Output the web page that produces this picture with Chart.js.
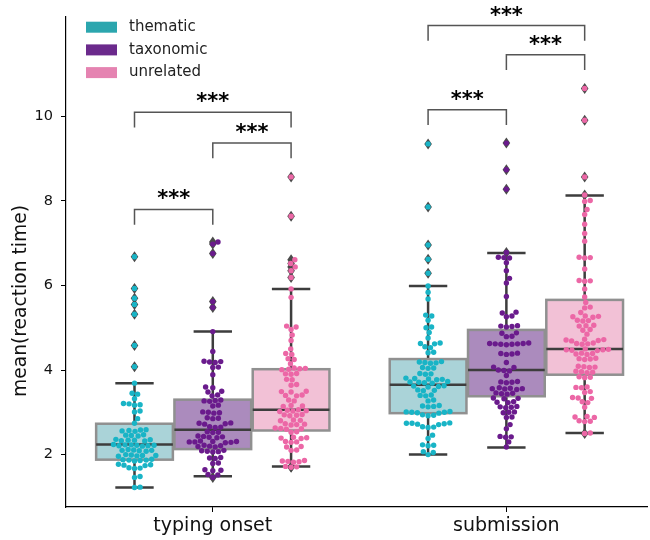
<!DOCTYPE html>
<html>
<head>
<meta charset="utf-8">
<script src="https://cdn.jsdelivr.net/npm/chart.js@4.4.1/dist/chart.umd.min.js"></script>
<style>
  html, body { margin: 0; padding: 0; background: #fff; overflow: hidden; }
</style>
</head>
<body>
<canvas id="chart" width="650" height="540"></canvas>
<script>
const categories = ['typing onset', 'submission'];
const seriesNames = ['thematic', 'taxonomic', 'unrelated'];
const yTicks = [2, 4, 6, 8, 10];

// box statistics per series: [typing onset, submission]
const boxQ1 = [[1.88, 2.98], [2.13, 3.38], [2.57, 3.89]];
const boxMedian = [[2.24, 3.65], [2.59, 4.00], [3.06, 4.50]];
const boxQ3 = [[2.73, 4.26], [3.30, 4.95], [4.02, 5.66]];
const whiskerLow = [[1.22, 2.00], [1.49, 2.17], [1.72, 2.51]];
const whiskerHigh = [[3.69, 5.99], [4.91, 6.77], [5.92, 8.13]];

// per-participant means
const thematicTyping = [
  6.68, 5.93, 5.70, 5.55, 5.32, 4.58, 4.08,
  3.69, 3.45, 3.43, 3.32, 3.20, 3.18, 3.21, 3.17, 3.03, 3.01, 2.85, 2.74,
  2.58, 2.57, 2.56, 2.59, 2.55, 2.46, 2.45, 2.44, 2.47,
  2.35, 2.34, 2.33, 2.36, 2.32, 2.34,
  2.23, 2.22, 2.21, 2.24, 2.20, 2.22, 2.23, 2.21,
  2.11, 2.10, 2.09, 2.12, 2.08, 2.10,
  1.99, 1.98, 1.97, 2.00, 1.96, 1.98,
  1.88, 1.87, 1.86, 1.89, 1.85, 1.87,
  1.76, 1.75, 1.74, 1.77, 1.69, 1.68, 1.67,
  1.48, 1.46, 1.23, 1.22
];
const thematicSubmission = [
  9.35, 7.86, 6.96, 6.62, 6.29,
  5.99, 5.84, 5.68, 5.30, 5.28, 5.18, 5.02, 5.00, 4.89, 4.76, 4.64, 4.63, 4.62, 4.55, 4.53, 4.42, 4.41,
  4.19, 4.18, 4.17, 4.20, 4.16, 4.06, 4.05, 4.04, 3.92, 3.91, 3.90,
  3.80, 3.79, 3.78, 3.81, 3.77, 3.72, 3.71, 3.70, 3.73, 3.69,
  3.62, 3.61, 3.60, 3.63, 3.53, 3.52, 3.51, 3.41, 3.40, 3.39, 3.29, 3.27,
  3.15, 3.14, 3.13, 3.16, 3.01, 3.00, 2.99, 3.02, 2.98, 3.00, 2.94, 2.93, 2.92,
  2.74, 2.73, 2.72, 2.75, 2.71, 2.74, 2.66, 2.65, 2.64,
  2.46, 2.38, 2.23, 2.22, 2.21, 2.07, 2.05, 2.00
];
const taxonomicTyping = [
  7.03, 6.98, 6.76, 5.62, 5.48,
  4.91, 4.44, 4.21, 4.19, 4.20, 4.18, 4.07, 4.06, 3.89, 3.60, 3.58, 3.50, 3.48, 3.41, 3.39,
  3.29, 3.27, 3.28, 3.26, 3.17, 3.15,
  3.00, 2.99, 2.98, 3.01, 2.87, 2.86, 2.85,
  2.74, 2.73, 2.72, 2.75, 2.66, 2.65, 2.64,
  2.54, 2.53, 2.52, 2.43, 2.42, 2.41, 2.44, 2.40,
  2.31, 2.30, 2.29, 2.32, 2.28, 2.30, 2.31,
  2.21, 2.20, 2.19, 2.22, 2.18, 2.09, 2.08, 2.07, 2.10, 2.06,
  1.93, 1.92, 1.91, 1.80, 1.79, 1.64, 1.63, 1.62, 1.53, 1.52, 1.46
];
const taxonomicSubmission = [
  9.37, 8.74, 8.28,
  6.78, 6.67, 6.65, 6.66, 6.54, 6.35, 6.17, 6.06, 5.74, 5.37, 5.35, 5.28, 5.26,
  5.04, 5.03, 5.02, 5.05, 4.88, 4.87, 4.80, 4.79,
  4.63, 4.62, 4.61, 4.64, 4.60, 4.62, 4.63, 4.61,
  4.39, 4.38, 4.37, 4.40, 4.18, 4.07, 4.06, 4.00, 3.99, 3.98, 3.87,
  3.72, 3.71, 3.70, 3.73, 3.57, 3.56, 3.55, 3.58, 3.54, 3.56,
  3.45, 3.44, 3.43, 3.46, 3.34, 3.33, 3.32, 3.24, 3.23, 3.25,
  3.13, 3.12, 3.11, 3.14, 3.01, 3.00, 2.99, 2.89, 2.88,
  2.71, 2.61, 2.43, 2.42, 2.41, 2.30, 2.18
];
const unrelatedTyping = [
  8.57, 7.64, 6.61, 6.52, 6.44, 6.35, 6.19,
  5.92, 5.72, 5.04, 5.02, 4.96, 4.83, 4.70, 4.50, 4.39, 4.37, 4.27, 4.25, 4.15,
  4.04, 4.03, 4.02, 4.05, 4.01, 3.92, 3.91, 3.90, 3.78, 3.77, 3.66, 3.64,
  3.50, 3.49, 3.48, 3.41, 3.40, 3.39, 3.29, 3.27, 3.16, 3.15, 3.14,
  3.05, 3.04, 3.03, 3.06, 3.02, 2.94, 2.93, 2.92, 2.95, 2.82, 2.81, 2.80,
  2.72, 2.71, 2.70, 2.73, 2.62, 2.61, 2.60, 2.63, 2.54, 2.53,
  2.40, 2.39, 2.38, 2.41, 2.31, 2.30, 2.29, 2.19, 2.18, 2.11, 2.10,
  1.85, 1.84, 1.83, 1.86, 1.82, 1.72, 1.71, 1.70
];
const unrelatedSubmission = [
  10.66, 9.91, 8.57,
  8.14, 8.01, 7.99, 7.80, 7.68, 7.45, 7.23, 7.05, 6.67, 6.66, 6.65, 6.39, 6.12, 6.11, 6.10, 5.92, 5.73, 5.60, 5.49, 5.47, 5.36,
  5.27, 5.26, 5.25, 5.28, 5.18, 5.17, 5.16, 5.06, 5.05, 5.04, 4.96, 4.94, 4.85,
  4.72, 4.71, 4.70, 4.73, 4.69, 4.63, 4.62, 4.61, 4.64,
  4.49, 4.48, 4.47, 4.50, 4.46, 4.48, 4.39, 4.38, 4.37, 4.40,
  4.27, 4.26, 4.25, 4.28, 4.08, 4.07, 4.06, 4.09, 3.96, 3.95, 3.94, 3.97, 3.84, 3.83, 3.82,
  3.60, 3.59, 3.58, 3.49, 3.47, 3.35, 3.34, 3.33, 3.25, 3.23, 3.12,
  2.90, 2.89, 2.88, 2.80, 2.79, 2.78, 2.51, 2.50
];
const pointValues = [
  [thematicTyping, thematicSubmission],
  [taxonomicTyping, taxonomicSubmission],
  [unrelatedTyping, unrelatedSubmission]
];

// significance brackets
const bracketCategory = [0, 0, 0, 1, 1, 1];
const bracketFrom = [0, 1, 0, 0, 1, 0];
const bracketTo = [1, 2, 2, 1, 2, 2];
const bracketLevel = [7.80, 9.37, 10.10, 10.16, 11.46, 12.15];
const bracketLabel = ['***', '***', '***', '***', '***', '***'];

// styling
const FONT = "'DejaVu Sans', sans-serif";
const pointColors = ['#19b4c6', '#6a1b8c', '#ec67a6'];
const boxFills = ['#aad3d8', '#ab8bbd', '#f2c1d6'];
const legendColors = ['#2ba6ae', '#6b2a8c', '#e583b1'];
const lineGray = '#3d3d3d';
const hueWidth = 0.8 / 3;
const boxWidth = hueWidth * 0.98;
const dotRadius = 2.7;
const dotGap = 5.6;

const hueOffset = s => (s - 1) * hueWidth;

function swarmOffsets(pixels, d) {
  const order = pixels.map((p, i) => i).sort((a, b) => pixels[b] - pixels[a]);
  const placed = [];
  const out = new Array(pixels.length);
  order.forEach(i => {
    const py = pixels[i];
    const near = placed.filter(p => Math.abs(p.y - py) < d);
    const cands = [0];
    near.forEach(p => {
      const dx = Math.sqrt(d * d - (p.y - py) ** 2);
      cands.push(p.x + dx, p.x - dx);
    });
    cands.sort((a, b) => Math.abs(a) - Math.abs(b));
    const pick = cands.find(cx => near.every(p => (p.x - cx) ** 2 + (p.y - py) ** 2 >= d * d - 0.01));
    placed.push({ x: pick, y: py });
    out[i] = pick;
  });
  return out;
}

const boxPlugin = {
  id: 'boxes',
  beforeDatasetsDraw(chart) {
    const { ctx, scales: { x, y } } = chart;
    const unit = x.getPixelForValue(1) - x.getPixelForValue(0);
    ctx.save();
    seriesNames.forEach((name, s) => {
      categories.forEach((cat, c) => {
        const cx = x.getPixelForValue(c + hueOffset(s));
        const half = boxWidth * unit / 2;
        const top = y.getPixelForValue(boxQ3[s][c]);
        const bot = y.getPixelForValue(boxQ1[s][c]);
        const hi = y.getPixelForValue(whiskerHigh[s][c]);
        const lo = y.getPixelForValue(whiskerLow[s][c]);
        // whiskers and caps
        ctx.strokeStyle = lineGray;
        ctx.lineWidth = 2.5;
        ctx.beginPath();
        ctx.moveTo(cx, top); ctx.lineTo(cx, hi);
        ctx.moveTo(cx, bot); ctx.lineTo(cx, lo);
        ctx.moveTo(cx - half / 2, hi); ctx.lineTo(cx + half / 2, hi);
        ctx.moveTo(cx - half / 2, lo); ctx.lineTo(cx + half / 2, lo);
        ctx.stroke();
        // box
        ctx.fillStyle = boxFills[s];
        ctx.fillRect(cx - half, top, half * 2, bot - top);
        ctx.strokeStyle = '#909090';
        ctx.lineWidth = 2.5;
        ctx.strokeRect(cx - half, top, half * 2, bot - top);
        // median
        const my = y.getPixelForValue(boxMedian[s][c]);
        ctx.strokeStyle = lineGray;
        ctx.beginPath();
        ctx.moveTo(cx - half, my); ctx.lineTo(cx + half, my);
        ctx.stroke();
        // outliers
        pointValues[s][c].forEach(v => {
          if (v <= whiskerHigh[s][c] + 1e-9 && v >= whiskerLow[s][c] - 1e-9) return;
          const py = y.getPixelForValue(v);
          ctx.beginPath();
          ctx.moveTo(cx, py - 5.5); ctx.lineTo(cx + 3.8, py);
          ctx.lineTo(cx, py + 5.5); ctx.lineTo(cx - 3.8, py);
          ctx.closePath();
          ctx.fillStyle = '#4a4a4a';
          ctx.fill();
        });
      });
    });
    ctx.restore();
  }
};

const annotationPlugin = {
  id: 'annotations',
  afterDatasetsDraw(chart) {
    const { ctx, scales: { x, y } } = chart;
    const drop = y.getPixelForValue(0) - y.getPixelForValue(0.36);
    ctx.save();
    bracketLevel.forEach((lvl, i) => {
      const c = bracketCategory[i];
      const x1 = x.getPixelForValue(c + hueOffset(bracketFrom[i]));
      const x2 = x.getPixelForValue(c + hueOffset(bracketTo[i]));
      const by = y.getPixelForValue(lvl);
      ctx.strokeStyle = '#555';
      ctx.lineWidth = 1.5;
      ctx.beginPath();
      ctx.moveTo(x1, by + drop); ctx.lineTo(x1, by); ctx.lineTo(x2, by); ctx.lineTo(x2, by + drop);
      ctx.stroke();
      ctx.fillStyle = '#000';
      ctx.font = 'bold 21px ' + FONT;
      ctx.textAlign = 'center';
      ctx.textBaseline = 'alphabetic';
      ctx.fillText(bracketLabel[i], (x1 + x2) / 2, by - 4);
    });
    ctx.restore();
  },
  afterDraw(chart) {
    const { ctx, chartArea } = chart;
    ctx.save();
    // legend
    chart.data.datasets.forEach((ds, i) => {
      const rowY = chartArea.top + 10.5 + i * 22.7;
      ctx.fillStyle = legendColors[i];
      ctx.fillRect(chartArea.left + 20, rowY - 5.5, 31, 11);
      ctx.fillStyle = '#222';
      ctx.font = '15px ' + FONT;
      ctx.textAlign = 'left';
      ctx.textBaseline = 'middle';
      ctx.fillText(ds.label, chartArea.left + 63, rowY);
    });
    // y axis title
    ctx.translate(21, 301);
    ctx.rotate(-Math.PI / 2);
    ctx.font = '18.7px ' + FONT;
    ctx.fillStyle = '#111';
    ctx.textAlign = 'center';
    ctx.textBaseline = 'middle';
    ctx.fillText('mean(reaction time)', 0, 0);
    ctx.restore();
  }
};

const datasets = seriesNames.map((name, s) => ({
  label: name,
  data: categories.flatMap((cat, c) => pointValues[s][c].map(v => ({ x: c + hueOffset(s), y: v }))),
  backgroundColor: pointColors[s],
  borderWidth: 0,
  pointRadius: dotRadius,
  pointHoverRadius: dotRadius
}));

const chart = new Chart(document.getElementById('chart'), {
  type: 'scatter',
  data: { datasets },
  options: {
    responsive: false,
    animation: false,
    layout: { padding: { top: 15, right: 0, bottom: 0, left: 0 } },
    plugins: { legend: { display: false }, tooltip: { enabled: false } },
    scales: {
      x: {
        type: 'linear', min: -0.5, max: 1.48,
        afterBuildTicks: s => { s.ticks = categories.map((c, i) => ({ value: i })); },
        afterFit: s => { s.height = 33; },
        ticks: { callback: v => categories[v], font: { family: FONT, size: 19 }, color: '#111', padding: 3, maxRotation: 0 },
        grid: { drawOnChartArea: false, drawTicks: true, tickLength: 5, color: '#000', lineWidth: 1 },
        border: { display: true, color: '#000', width: 1.2 }
      },
      y: {
        min: 0.76, max: 12.36,
        afterBuildTicks: s => { s.ticks = yTicks.map(v => ({ value: v })); },
        afterFit: s => { s.width = 66; },
        ticks: { font: { family: FONT, size: 14.5 }, color: '#111', padding: 8 },
        grid: { drawOnChartArea: false, drawTicks: true, tickLength: 5, color: '#000', lineWidth: 1 },
        border: { display: true, color: '#000', width: 1.2 }
      }
    }
  },
  plugins: [boxPlugin, annotationPlugin]
});

// lay the points out as a swarm around each box centre
const xs = chart.scales.x, ys = chart.scales.y;
const unitPx = xs.getPixelForValue(1) - xs.getPixelForValue(0);
chart.data.datasets.forEach((ds, s) => {
  let k = 0;
  categories.forEach((cat, c) => {
    const vals = pointValues[s][c];
    const offs = swarmOffsets(vals.map(v => ys.getPixelForValue(v)), dotGap);
    vals.forEach((v, i) => { ds.data[k++] = { x: c + hueOffset(s) + offs[i] / unitPx, y: v }; });
  });
});
chart.update('none');
</script>
</body>
</html>
